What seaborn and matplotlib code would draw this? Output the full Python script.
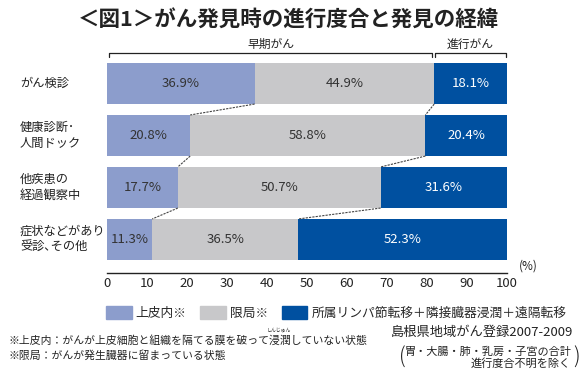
import numpy as np
import pandas as pd
import seaborn as sns
import matplotlib.pyplot as plt
import matplotlib.patches as mpatches

# data
categories = ['がん検診', '健康診断･\n人間ドック', '他疾患の\n経過観察中', '症状などがあり\n受診､その他']
in_situ = [36.9, 20.8, 17.7, 11.3]      # 上皮内
localized = [44.9, 58.8, 50.7, 36.5]    # 限局
advanced = [18.1, 20.4, 31.6, 52.3]     # 所属リンパ節転移＋隣接臓器浸潤＋遠隔転移
series_names = ['上皮内※', '限局※', '所属リンパ節転移＋隣接臓器浸潤＋遠隔転移']
x_ticks = list(range(0, 101, 10))

c_light = '#8c9dcc'
c_gray = '#c8c8ca'
c_dark = '#0050a0'

sns.set_style('white')
plt.rcParams['font.family'] = ['Noto Sans CJK JP', 'DejaVu Sans']

df = pd.DataFrame({'cat': categories, 'a': in_situ, 'b': localized, 'c': advanced})
df['cum1'] = df['a']
df['cum2'] = df['a'] + df['b']
df['cum3'] = df['a'] + df['b'] + df['c']

fig = plt.figure(figsize=(5.86, 3.71), dpi=100)
ax = fig.add_axes([107 / 586, (371 - 273) / 371, 400 / 586, 220 / 371])

bw = 0.79
# overlay cumulative bars, longest first
sns.barplot(data=df, x='cum3', y='cat', color=c_dark, width=bw, linewidth=0, saturation=1, ax=ax)
sns.barplot(data=df, x='cum2', y='cat', color=c_gray, width=bw, linewidth=0, saturation=1, ax=ax)
sns.barplot(data=df, x='cum1', y='cat', color=c_light, width=bw, linewidth=0, saturation=1, ax=ax)

ax.set_xlim(0, 100)
ax.set_ylim(3.644, -0.587)

# segment labels
for i, r in df.iterrows():
    ax.text(r['a'] / 2, i, f"{r['a']:.1f}%", ha='center', va='center', fontsize=9.5, color='#333333')
    ax.text(r['cum1'] + r['b'] / 2, i, f"{r['b']:.1f}%", ha='center', va='center', fontsize=9.5, color='#333333')
    ax.text(r['cum2'] + r['c'] / 2, i, f"{r['c']:.1f}%", ha='center', va='center', fontsize=9.5, color='white')

# dotted connectors between rows
for col in ['cum1', 'cum2']:
    for i in range(len(df) - 1):
        ax.plot([df[col][i], df[col][i + 1]], [i + bw / 2, i + 1 - bw / 2],
                color='#444444', lw=0.8, ls=(0, (2, 1)))

# category labels on the left
ytr = ax.get_yaxis_transform()
for i, lab in enumerate(categories):
    ax.text(-87 / 400, i, lab, transform=ytr, ha='left', va='center', fontsize=8.8,
            linespacing=1.3, color='#222222')

# axis styling
sns.despine(ax=ax, left=True, top=True, right=True)
ax.spines['bottom'].set_linewidth(1)
ax.spines['bottom'].set_color('#222222')
ax.set_xticks(x_ticks)
ax.set_xticklabels([str(t) for t in x_ticks], fontsize=9.5, color='#222222')
ax.tick_params(axis='x', direction='in', length=7, width=0.8, pad=3, colors='#222222', labelcolor='#222222')
ax.set_yticks([])
ax.set_xlabel('')
ax.set_ylabel('')
ax.text(1.03, 0.03, '(%)', transform=ax.transAxes, fontsize=8.5, color='#222222', ha='left', va='center')

# brackets on top
xtr = ax.get_xaxis_transform()
split = df['cum2'][0] - 0.2
dy = 4 / 220
for x0, x1, lab in [(0.5, split - 0.3, '早期がん'), (split + 0.3, 99.8, '進行がん')]:
    ax.plot([x0, x0, x1, x1], [1 - dy, 1, 1, 1 - dy], transform=xtr, color='#222222', lw=0.9, clip_on=False)
    ax.text((x0 + x1) / 2, 1.01, lab, transform=xtr, ha='center', va='bottom', fontsize=8.5, color='#222222')

# title
fig.text(0.493, 0.945, '＜図1＞がん発見時の進行度合と発見の経緯', ha='center', va='center',
         fontsize=15.5, fontweight='bold', color='#222222')

# legend
handles = [mpatches.Patch(color=c, label=n) for c, n in zip([c_light, c_gray, c_dark], series_names)]
fig.legend(handles=handles, loc='center left', bbox_to_anchor=(106 / 586, 1 - 313 / 371), ncol=3,
           frameon=False, fontsize=9.2, handlelength=2.0, handleheight=1.2, handletextpad=0.3,
           columnspacing=1.1, borderaxespad=0, borderpad=0)

# footnotes
fig.text(8 / 586, 1 - 340 / 371, '※上皮内：がんが上皮細胞と組織を隔てる膜を破って浸潤していない状態',
         ha='left', va='center', fontsize=7.8, color='#222222')
fig.text(279 / 586, 1 - 331 / 371, 'しんじゅん', ha='center', va='center', fontsize=3.5, color='#222222')
fig.text(8 / 586, 1 - 356 / 371, '※限局：がんが発生臓器に留まっている状態',
         ha='left', va='center', fontsize=7.8, color='#222222')

fig.text(573 / 586, 1 - 332 / 371, '島根県地域がん登録2007-2009', ha='right', va='center',
         fontsize=9.5, color='#222222')
fig.text(571 / 586, 1 - 352 / 371, '胃・大腸・肺・乳房・子宮の合計', ha='right', va='center',
         fontsize=8, color='#222222')
fig.text(571 / 586, 1 - 363 / 371, '進行度合不明を除く', ha='right', va='center',
         fontsize=8, color='#222222')
fig.text(402 / 586, 1 - 358 / 371, '(', ha='center', va='center', fontsize=15, color='#222222', fontweight='light')
fig.text(577 / 586, 1 - 358 / 371, ')', ha='center', va='center', fontsize=15, color='#222222', fontweight='light')

fig.savefig('out.png', dpi=100)
